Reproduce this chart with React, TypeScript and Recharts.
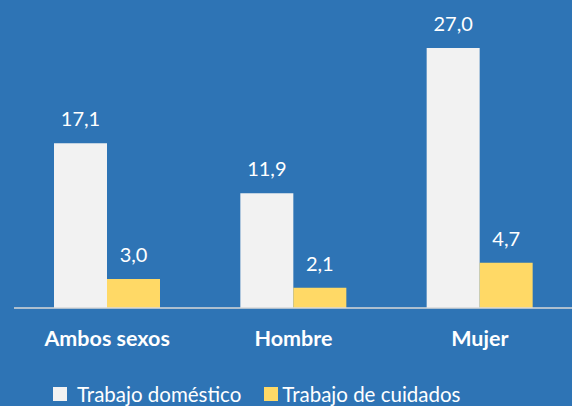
import { BarChart, Bar, XAxis, YAxis, LabelList, Legend } from 'recharts';

const categories = ['Ambos sexos', 'Hombre', 'Mujer'];
const domestico = [17.1, 11.9, 27.0];
const cuidados = [3.0, 2.1, 4.7];
const seriesNames = ['Trabajo doméstico', 'Trabajo de cuidados'];

const data = categories.map((name, i) => ({
  name,
  domestico: domestico[i],
  cuidados: cuidados[i],
}));

const BG = '#2E74B5';
const WHITE_BAR = '#F2F2F2';
const YELLOW_BAR = '#FFD966';
const FONT = 'Lato, "Open Sans", sans-serif';

const fmt = (v: any) => Number(v).toFixed(1).replace('.', ',');

function LegendContent() {
  const colors = [WHITE_BAR, YELLOW_BAR];
  const iconGap = [10, 4];
  return (
    <div style={{ display: 'flex', justifyContent: 'flex-start', alignItems: 'center', gap: 23, paddingLeft: 53, fontFamily: FONT, fontSize: 20.5, color: '#fff', lineHeight: '24px' }}>
      {seriesNames.map((n, i) => (
        <div key={n} style={{ display: 'flex', alignItems: 'center' }}>
          <span style={{ display: 'inline-block', width: 14, height: 14, background: colors[i], marginRight: iconGap[i] }} />
          <span>{n}</span>
        </div>
      ))}
    </div>
  );
}

export default function App() {
  return (
    <div style={{ position: 'absolute', left: 0, top: 0, width: 572, height: 406, background: BG }}>
      <BarChart
        width={572}
        height={406}
        data={data}
        margin={{ top: 19, right: -1, left: 14, bottom: 8 }}
        barCategoryGap={40}
        barGap={0}
      >
        <YAxis hide domain={[0, 30]} />
        <XAxis
          dataKey="name"
          axisLine={{ stroke: '#D9D9D9', strokeWidth: 1.5 }}
          tickLine={false}
          height={66}
          tick={{ fill: '#fff', fontFamily: FONT, fontSize: 21.5, fontWeight: 700 }}
          tickMargin={17}
          interval={0}
        />
        <Legend content={<LegendContent />} verticalAlign="bottom" wrapperStyle={{ bottom: 0, left: 0, width: 572 }} />
        <Bar dataKey="domestico" fill={WHITE_BAR} isAnimationActive={false}>
          <LabelList dataKey="domestico" position="top" offset={17} formatter={fmt} fill="#fff" style={{ fontFamily: FONT, fontSize: 20 }} />
        </Bar>
        <Bar dataKey="cuidados" fill={YELLOW_BAR} isAnimationActive={false}>
          <LabelList dataKey="cuidados" position="top" offset={17} formatter={fmt} fill="#fff" style={{ fontFamily: FONT, fontSize: 20 }} />
        </Bar>
      </BarChart>
    </div>
  );
}
